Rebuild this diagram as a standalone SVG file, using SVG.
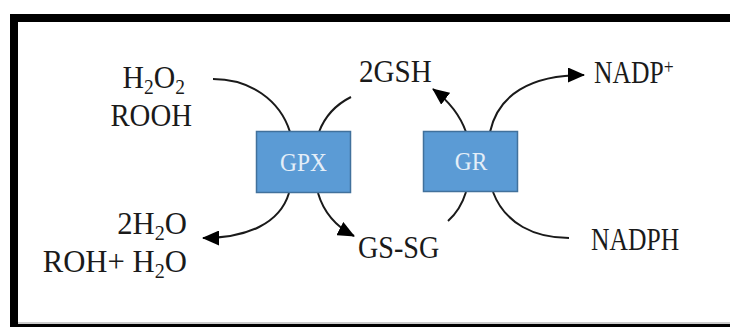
<svg xmlns="http://www.w3.org/2000/svg" width="730" height="327" viewBox="0 0 730 327">
<style>
.lbl{font-family:"Liberation Serif","Times New Roman",serif;font-size:32px;fill:#1a1a1a}
.sub{font-size:21px}
.sup{font-size:22px}
.enz{font-family:"Liberation Serif","Times New Roman",serif;font-size:26px;fill:#e4eef8;text-anchor:middle}
.box{fill:#5b9bd5;stroke:#41719c;stroke-width:1.5}
.ln{fill:none;stroke:#1a1a1a;stroke-width:2}
.arr{marker-end:url(#ah)}
</style>
<defs>
<marker id="ah" markerUnits="userSpaceOnUse" markerWidth="17" markerHeight="15" viewBox="0 0 17 15" refX="16" refY="7.5" orient="auto">
<path d="M0,0 L17,7.5 L0,15 z" fill="#000"/>
</marker>
</defs>
<rect x="0" y="0" width="730" height="327" fill="#fff"/>
<rect x="14" y="18" width="800" height="310" fill="none" stroke="#000" stroke-width="8"/>
<line x1="18" y1="323" x2="730" y2="323" stroke="#999" stroke-width="1"/>
<g id="connectors">
<path class="ln" d="M213,79 C250,79 280,100 290,132"/>
<path class="ln" d="M319,132 C325,116 337,104 351,97"/>
<path class="ln arr" d="M289,193 C280,223 248,238 203,238"/>
<path class="ln arr" d="M318,193 C323,210 333,225 354,236"/>
<path class="ln arr" d="M466,132 C460,115 450,102 433,89"/>
<path class="ln arr" d="M490,132 C498,95 530,75 584,75"/>
<path class="ln" d="M466,192 C462,205 457,213 448,221"/>
<path class="ln" d="M493,192 C505,224 535,238 569,238"/>
</g>
<g id="gpx">
<rect class="box" x="256.5" y="131.5" width="94" height="61"/>
<text class="enz" transform="translate(303.5,171) scale(0.9,1)">GPX</text>
</g>
<g id="gr">
<rect class="box" x="423.5" y="131.5" width="94" height="60"/>
<text class="enz" transform="translate(471,170) scale(0.9,1)">GR</text>
</g>
<g id="h2o2">
<text class="lbl" transform="translate(185,88) scale(0.93,1)" text-anchor="end">H<tspan class="sub" dy="6">2</tspan><tspan dy="-6">O</tspan><tspan class="sub" dy="6">2</tspan></text>
<text class="lbl" transform="translate(192,126) scale(0.9,1)" text-anchor="end">ROOH</text>
</g>
<g id="gsh">
<text class="lbl" transform="translate(359,82) scale(0.91,1)">2GSH</text>
</g>
<g id="nadp">
<text class="lbl" transform="translate(594,83) scale(0.8,1)">NADP<tspan class="sup" dy="-9">+</tspan></text>
</g>
<g id="h2o">
<text class="lbl" transform="translate(187,234) scale(0.96,1)" text-anchor="end">2H<tspan class="sub" dy="6">2</tspan><tspan dy="-6">O</tspan></text>
<text class="lbl" transform="translate(187,272) scale(0.96,1)" text-anchor="end">ROH+ H<tspan class="sub" dy="6">2</tspan><tspan dy="-6">O</tspan></text>
</g>
<g id="gssg">
<text class="lbl" transform="translate(358,258) scale(0.88,1)">GS-SG</text>
</g>
<g id="nadph">
<text class="lbl" transform="translate(591,250) scale(0.8,1)">NADPH</text>
</g>
</svg>
